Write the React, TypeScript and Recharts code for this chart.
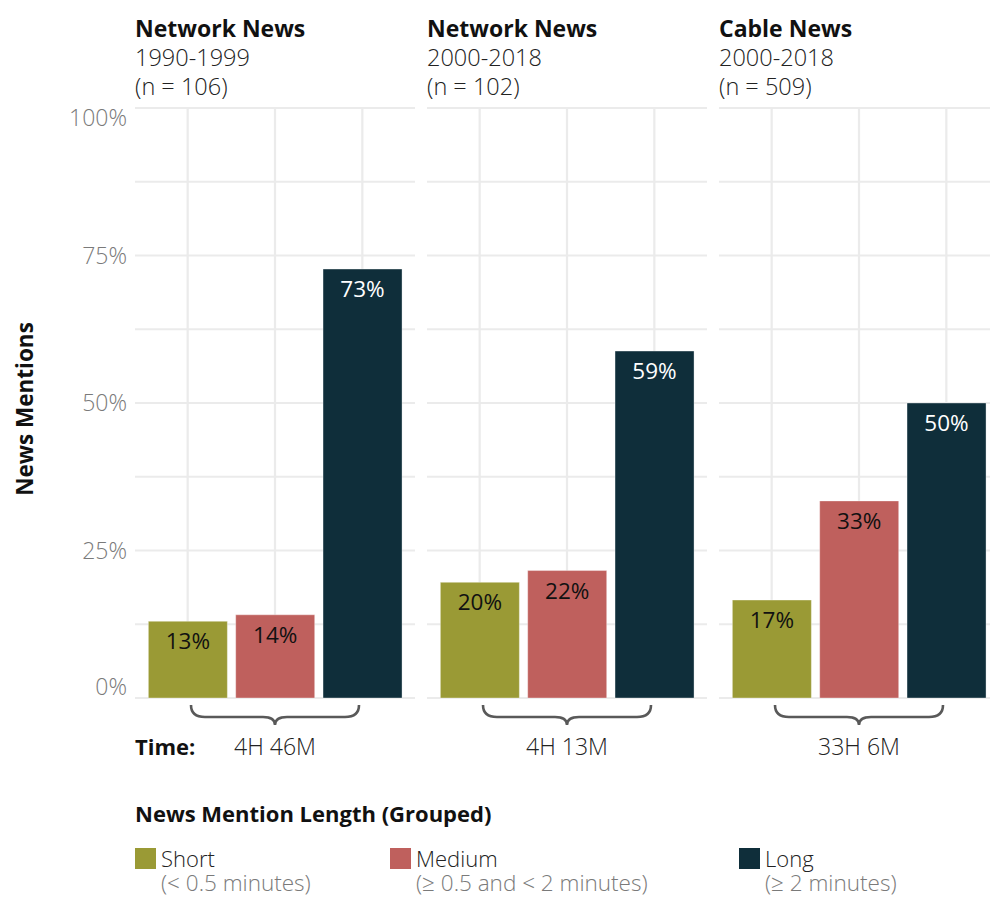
import { BarChart, Bar, XAxis, YAxis, CartesianGrid, Cell, LabelList } from 'recharts';

const CATEGORIES = ['Short', 'Medium', 'Long'];
const CATEGORY_NOTES = ['(< 0.5 minutes)', '(≥ 0.5 and < 2 minutes)', '(≥ 2 minutes)'];
const COLORS = ['#9A9A35', '#BF605D', '#0F2E3A'];
const LABEL_COLORS = ['#111111', '#111111', '#ffffff'];

const PANEL_TITLES = ['Network News', 'Network News', 'Cable News'];
const PANEL_PERIODS = ['1990-1999', '2000-2018', '2000-2018'];
const PANEL_N = [106, 102, 509];
const PANEL_TIME = ['4H 46M', '4H 13M', '33H 6M'];

const NETWORK_1990S = [13.0, 14.1, 72.7];
const NETWORK_2000S = [19.6, 21.6, 58.8];
const CABLE_2000S = [16.6, 33.4, 50.0];
const PANEL_VALUES = [NETWORK_1990S, NETWORK_2000S, CABLE_2000S];

const Y_TICKS = [0, 12.5, 25, 37.5, 50, 62.5, 75, 87.5, 100];
const Y_LABELED = [0, 25, 50, 75, 100];

const FONT = '"Open Sans", "Noto Sans", sans-serif';
const PANEL_W = 280;
const PANEL_GAP = 12;
const AXIS_W = 135;
const CHART_H = 770;

function YTick({ x, y, payload }: any) {
    const v = payload.value;
    if (!Y_LABELED.includes(v)) return null;
    const dy = v === 100 ? 18 : v === 0 ? -3 : 8;
    return (
        <text x={x} y={y + dy} textAnchor="end" fontSize={23} fontWeight={300} fill="#7a7a7a" fontFamily={FONT}>
            {v}%
        </text>
    );
}

const NoTick = () => null;

function makeXTick(time: string) {
    return function XTick({ x, y, payload }: any) {
        if (payload.value !== CATEGORIES[1]) return null;
        const w = 84;
        const d = `M${x - w},${y + 7} Q${x - w},${y + 19} ${x - w + 14},${y + 19} L${x - 12},${y + 19} Q${x},${y + 19} ${x},${y + 27} Q${x},${y + 19} ${x + 12},${y + 19} L${x + w - 14},${y + 19} Q${x + w},${y + 19} ${x + w},${y + 7}`;
        return (
            <g>
                <path d={d} fill="none" stroke="#595959" strokeWidth={2.6} />
                <text x={x} y={y + 57} textAnchor="middle" fontSize={23} fontWeight={300} fill="#222" fontFamily={FONT}>
                    {time}
                </text>
            </g>
        );
    };
}

function Panel({ idx }: { idx: number }) {
    const values = PANEL_VALUES[idx];
    const data = CATEGORIES.map((name, i) => ({ name, value: values[i] }));
    const showAxis = idx === 0;
    const axisW = showAxis ? AXIS_W : 0;
    const left = showAxis ? 0 : AXIS_W + idx * (PANEL_W + PANEL_GAP);
    return (
        <div style={{ position: 'absolute', left, top: 0 }}>
            <BarChart
                width={PANEL_W + axisW}
                height={CHART_H}
                data={data}
                margin={{ top: 108, right: 0, bottom: 0, left: 0 }}
                barCategoryGap="5%"
            >
                <CartesianGrid stroke="#ebebeb" strokeWidth={2.2} syncWithTicks />
                <XAxis
                    dataKey="name"
                    interval={0}
                    padding={{ left: 9, right: 9 }}
                    axisLine={false}
                    tickLine={false}
                    tickSize={0}
                    tickMargin={0}
                    height={72}
                    tick={makeXTick(PANEL_TIME[idx])}
                />
                <YAxis
                    width={axisW}
                    domain={[0, 100]}
                    ticks={Y_TICKS}
                    interval={0}
                    axisLine={false}
                    tickLine={false}
                    tickSize={0}
                    tickMargin={8}
                    tick={showAxis ? YTick : NoTick}
                />
                <Bar dataKey="value" isAnimationActive={false} stroke="#ffffff" strokeOpacity={0.35} strokeWidth={1}>
                    {data.map((d, i) => (
                        <Cell key={d.name} fill={COLORS[i]} />
                    ))}
                    <LabelList
                        dataKey="value"
                        content={({ x, y, width, value, index }: any) => (
                            <text
                                x={Number(x) + Number(width) / 2}
                                y={Number(y) + 28}
                                textAnchor="middle"
                                fontSize={22.5}
                                fill={LABEL_COLORS[index]}
                                fontFamily={FONT}
                            >
                                {`${Math.round(Number(value))}%`}
                            </text>
                        )}
                    />
                </Bar>
            </BarChart>
        </div>
    );
}

export default function App() {
    return (
        <div
            style={{
                position: 'absolute',
                left: 0,
                top: 0,
                width: 990,
                height: 897,
                overflow: 'hidden',
                background: '#fff',
                fontFamily: FONT,
            }}
        >
            {PANEL_TITLES.map((_, i) => (
                <Panel key={i} idx={i} />
            ))}
            <svg width={990} height={897} style={{ position: 'absolute', left: 0, top: 0, pointerEvents: 'none' }}>
                {PANEL_TITLES.map((t, i) => {
                    const x = AXIS_W + i * (PANEL_W + PANEL_GAP);
                    return (
                        <g key={i} fontFamily={FONT}>
                            <text x={x} y={37} fontSize={23} fontWeight={700} fill="#111">
                                {t}
                            </text>
                            <text x={x} y={66} fontSize={23.5} fontWeight={300} fill="#222">
                                {PANEL_PERIODS[i]}
                            </text>
                            <text x={x} y={95} fontSize={23.5} fontWeight={300} fill="#222">
                                {`(n = ${PANEL_N[i]})`}
                            </text>
                        </g>
                    );
                })}
                <text
                    x={0}
                    y={0}
                    transform="translate(33,409) rotate(-90)"
                    textAnchor="middle"
                    fontFamily={FONT}
                    fontSize={22.5}
                    fontWeight={700}
                    fill="#111"
                >
                    News Mentions
                </text>
                <text x={135} y={755} fontFamily={FONT} fontSize={22} fontWeight={700} fill="#111">
                    Time:
                </text>
                <text x={135} y={822} fontFamily={FONT} fontSize={22} fontWeight={700} fill="#111">
                    News Mention Length (Grouped)
                </text>
                {CATEGORIES.map((c, i) => {
                    const x = [135, 390, 739][i];
                    return (
                        <g key={c} fontFamily={FONT} fontWeight={300}>
                            <rect x={x} y={848} width={21} height={21} fill={COLORS[i]} />
                            <text x={x + 26} y={867} fontSize={22} fill="#222">
                                {c}
                            </text>
                            <text x={x + 26} y={891} fontSize={22.5} fill="#7a7a7a">
                                {CATEGORY_NOTES[i]}
                            </text>
                        </g>
                    );
                })}
            </svg>
        </div>
    );
}
